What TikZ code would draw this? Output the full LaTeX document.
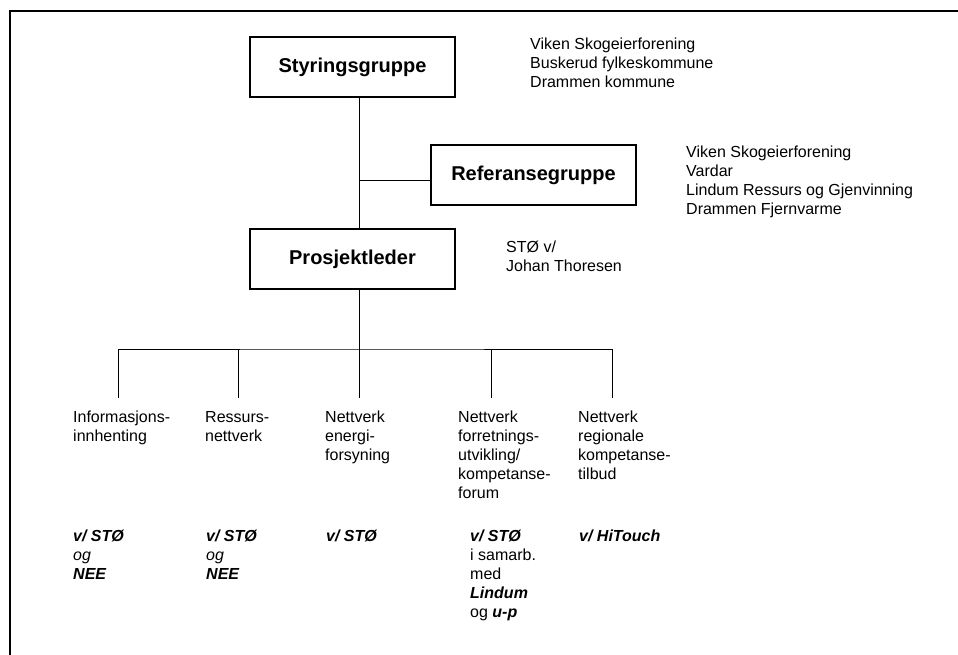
\documentclass[tikz,border=0pt]{standalone}
\usepackage{fontspec}
\setmainfont{Liberation Sans}
\begin{document}
\begin{tikzpicture}[x=1pt,y=-1pt,
  box/.style={draw, line width=1.1pt, minimum width=205pt, minimum height=60pt, inner sep=0pt, font=\fontsize{20}{24}\selectfont\bfseries},
  txt/.style={anchor=north west, yshift=13.3pt, align=left, inner sep=0pt, font=\fontsize{16}{19}\selectfont},
  conn/.style={line width=1pt},
  frame/.style={line width=1.6pt}]
\useasboundingbox (0,0) rectangle (958,655);
\draw[frame] (10,655) -- (10,11) -- (958,11);

\node[box] (styr) at (352.5,67) {Styringsgruppe};
\node[box] (ref) at (533.5,175) {Referansegruppe};
\node[box] (prosj) at (352.5,259) {Prosjektleder};

\node[txt] (styrl) at (530,49) {\strut Viken Skogeierforening\\Buskerud fylkeskommune\\Drammen kommune};
\node[txt] (refl) at (686,157) {\strut Viken Skogeierforening\\Vardar\\Lindum Ressurs og Gjenvinning\\Drammen Fjernvarme};
\node[txt] (prosjl) at (506,252) {\strut STØ v/\\Johan Thoresen};

\node[txt] (b1) at (73,422) {\strut Informasjons-\\innhenting};
\node[txt] (b2) at (205,422) {\strut Ressurs-\\nettverk};
\node[txt] (b3) at (325,422) {\strut Nettverk\\energi-\\forsyning};
\node[txt] (b4) at (458,422) {\strut Nettverk\\forretnings-\\utvikling/\\kompetanse-\\forum};
\node[txt] (b5) at (578,422) {\strut Nettverk\\regionale\\kompetanse-\\tilbud};

\node[txt] (c1) at (73,541) {\strut\textbf{\textit{v/ STØ}}\\\textit{og}\\\textbf{\textit{NEE}}};
\node[txt] (c2) at (206,541) {\strut\textbf{\textit{v/ STØ}}\\\textit{og}\\\textbf{\textit{NEE}}};
\node[txt] (c3) at (326,541) {\strut\textbf{\textit{v/ STØ}}};
\node[txt] (c4) at (470,541) {\strut\textbf{\textit{v/ STØ}}\\i samarb.\\med\\\textbf{\textit{Lindum}}\\og \textbf{\textit{u-p}}};
\node[txt] (c5) at (579,541) {\strut\textbf{\textit{v/ HiTouch}}};

\coordinate (spine) at (359,0);
\coordinate (rj) at (359,181);
\coordinate (j) at (359,349);
\coordinate (t1) at (118,398);
\coordinate (t2) at (238,398);
\coordinate (t3) at (359,398);
\coordinate (t4) at (491,398);
\coordinate (t5) at (612,398);

\draw[conn] (styr.south -| spine) -- (prosj.north -| spine);
\draw[conn] (ref.west |- rj) -- (rj);
\draw[conn] (prosj.south -| j) -- (j);
\draw[conn] (t1) |- (j) -| (t5);
\draw[conn] (t2) -- (t2 |- j);
\draw[conn] (t3) -- (j);
\draw[conn] (t4) -- (t4 |- j);
\end{tikzpicture}
\end{document}
